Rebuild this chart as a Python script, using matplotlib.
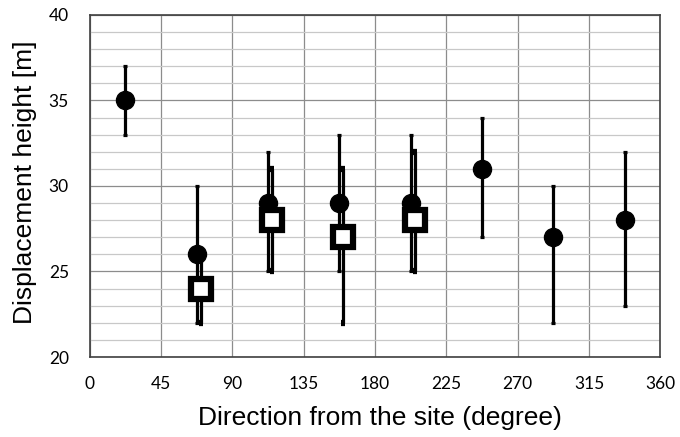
import numpy as np
import matplotlib
matplotlib.use("Agg")
from matplotlib import pyplot as plt
from matplotlib.ticker import MultipleLocator

# circles
dir_circ = [22.5, 67.5, 112.5, 157.5, 202.5, 247.5, 292.5, 337.5]
h_circ = [35, 26, 29, 29, 29, 31, 27, 28]
lo_circ = [33, 22, 25, 25, 25, 27, 22, 23]
hi_circ = [37, 30, 32, 33, 33, 34, 30, 32]

# squares
dir_sq = [70, 115, 160, 205]
h_sq = [24, 28, 27, 28]
lo_sq = [22, 25, 22, 25]
hi_sq = [26, 31, 31, 32]

fig = plt.figure(figsize=(6.8, 4.37), dpi=100)
ax = fig.add_axes([0.132, 0.183, 0.839, 0.783])

for d, h, lo, hi, fmt, kw in [
    (dir_circ, h_circ, lo_circ, hi_circ, "o", dict(ms=13, mfc="black")),
    (dir_sq, h_sq, lo_sq, hi_sq, "s", dict(ms=14, mfc="white", mew=4.5)),
]:
    h = np.array(h)
    yerr = [h - np.array(lo), np.array(hi) - h]
    ax.errorbar(d, h, yerr=yerr, fmt=fmt, color="black", mec="black",
                elinewidth=2.3, capsize=1.5, capthick=2.3, zorder=3, **kw)

ax.set_xlim(0, 360)
ax.set_ylim(20, 40)
ax.xaxis.set_major_locator(MultipleLocator(45))
ax.yaxis.set_major_locator(MultipleLocator(5))
ax.yaxis.set_minor_locator(MultipleLocator(1))
ax.grid(True, which="major", color="#8c8c8c", lw=0.9)
ax.grid(True, which="minor", axis="y", color="#c8c8c8", lw=0.9)
ax.set_axisbelow(True)
ax.tick_params(which="both", length=0, labelsize=12.5)
ax.tick_params(axis="x", pad=14)
ax.tick_params(axis="y", pad=15)
for s in ax.spines.values():
    s.set_color("#404040")
    s.set_linewidth(1.2)

for lab in ax.get_xticklabels() + ax.get_yticklabels():
    lab.set_fontfamily("Lato")

ax.set_xlabel("Direction from the site (degree)", fontsize=19,
              fontfamily="Liberation Sans")
ax.set_ylabel("Displacement height [m]", fontsize=19,
              fontfamily="Liberation Sans")
ax.xaxis.set_label_coords(0.508, -0.143)
ax.yaxis.set_label_coords(-0.093, 0.51)

fig.savefig("out.png", dpi=100)
